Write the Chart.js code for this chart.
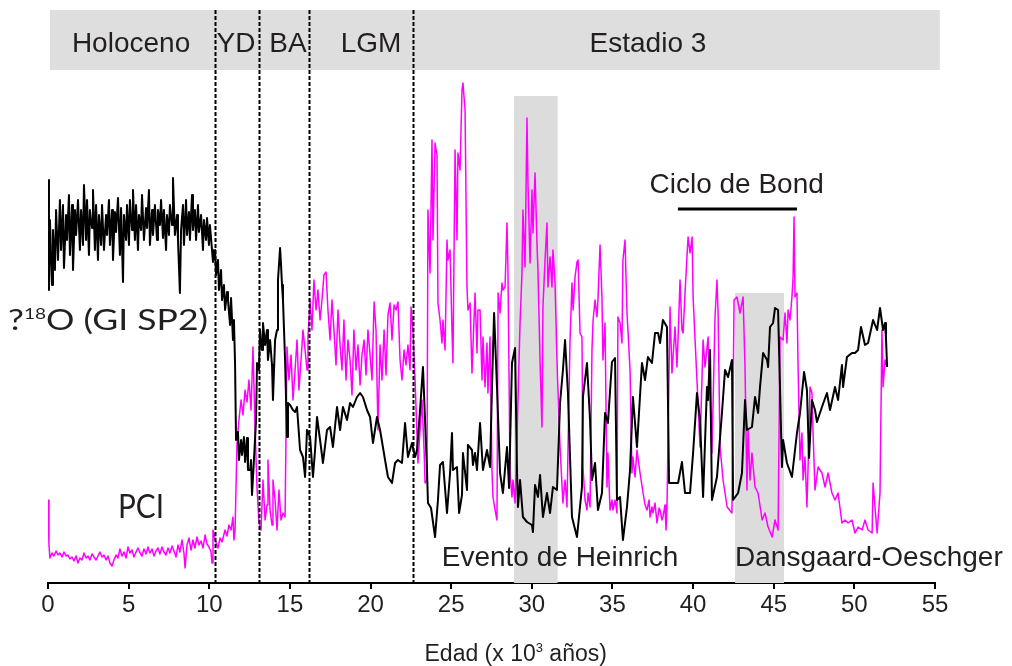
<!DOCTYPE html>
<html>
<head>
<meta charset="utf-8">
<script src="https://cdn.jsdelivr.net/npm/chart.js@4.4.1/dist/chart.umd.min.js"></script>
<style>
  html, body { margin: 0; padding: 0; background: #fff; }
  #chart { display: block; }
</style>
</head>
<body>
<canvas id="chart" width="1012" height="666"></canvas>
<script>
// ages in 10^3 years, values in arbitrary units (no y scale on the figure)
const gispAge = [
  0.00,0.06,0.12,0.25,0.31,0.43,0.50,0.62,0.74,0.81,
  0.93,0.99,1.12,1.18,1.30,1.36,1.49,1.55,1.67,1.74,
  1.86,1.98,2.05,2.17,2.23,2.36,2.42,2.54,2.60,2.73,
  2.79,2.91,2.98,3.10,3.16,3.29,3.35,3.47,3.60,3.66,
  3.78,3.84,3.97,4.03,4.15,4.22,4.34,4.46,4.53,4.65,
  4.71,4.84,4.90,5.02,5.08,5.21,5.27,5.39,5.46,5.58,
  5.64,5.77,5.83,5.95,6.08,6.14,6.26,6.32,6.45,6.51,
  6.63,6.76,6.82,6.94,7.01,7.13,7.19,7.32,7.38,7.50,
  7.56,7.69,7.75,7.87,8.00,8.06,8.18,8.25,8.37,8.43,
  8.56,8.62,8.74,8.80,8.93,8.99,9.11,9.18,9.30,9.36,
  9.49,9.61,9.67,9.80,9.86,9.98,10.04,10.17,10.23,
  10.36,10.42,10.54,10.60,10.73,10.79,10.91,10.98,11.10,11.16,
  11.29,11.35,11.47,11.53,11.60,11.66,11.78,11.84,11.97,12.03,
  12.15,12.22,12.34,12.40,12.53,12.59,12.65,12.77,12.90,12.96,
  13.08,13.15,13.27,13.33,13.46,13.58,13.64,13.77,13.89,13.95,
  14.08,14.20,14.26,14.39,14.45,14.51,14.57,14.70,14.82,14.88,
  15.01,15.19,15.32,15.44,15.63,15.81,15.94,16.06,16.25,16.43,
  16.56,16.68,16.87,17.05,17.30,17.49,17.67,17.92,18.11,18.29,
  18.54,18.73,18.91,19.16,19.35,19.53,19.78,19.97,20.15,20.40,
  20.59,20.90,21.08,21.33,21.52,21.70,21.95,22.14,22.32,22.57,
  22.76,22.88,23.07,23.25,23.50,23.56,23.75,24.00,24.18,24.31,
  24.49,24.74,24.93,25.05,25.11,25.36,25.49,25.67,25.73,25.98,
  26.04,26.29,26.35,26.48,26.60,26.79,26.97,27.22,27.41,27.53,
  27.66,27.84,28.03,28.21,28.46,28.59,28.77,28.96,29.08,29.14,
  29.27,29.45,29.70,30.01,30.07,30.20,30.38,30.51,30.69,30.94,
  31.13,31.31,31.56,31.75,31.93,32.06,32.24,32.49,32.80,33.11,
  33.17,33.42,33.61,33.73,33.92,34.10,34.35,34.54,34.72,34.97,
  35.16,35.28,35.47,35.65,35.90,36.09,36.27,36.52,36.83,37.02,
  37.20,37.45,37.64,37.83,37.95,38.13,38.38,38.51,38.75,39.07,
  39.31,39.50,39.81,40.00,40.24,40.43,40.62,40.86,40.93,41.05,
  41.17,41.48,41.79,41.98,42.17,42.41,42.48,42.79,43.03,43.22,
  43.34,43.65,43.84,44.03,44.15,44.34,44.59,44.65,44.77,44.96,
  45.08,45.27,45.51,45.58,45.82,46.13,46.44,46.63,46.88,47.06,
  47.19,47.37,47.56,47.68,47.99,48.30,48.49,48.80,48.99,49.23,
  49.30,49.54,49.85,50.04,50.23,50.41,50.66,50.85,51.16,51.41,
  51.59,51.78,51.90,51.96,52.03
];
const gispVal = [
  40.3,29.3,36.3,29.8,35.3,31.3,37.3,32.3,38.3,33.3,
  37.8,31.5,36.8,34.3,38.8,32.8,37.8,31.3,37.3,34.8,
  38.3,33.3,37.3,33.8,39.8,34.3,38.3,32.8,37.3,35.5,
  39.3,33.3,37.8,32.3,36.8,33.8,37.8,33.3,36.8,34.8,
  38.3,33.8,37.3,32.3,37.1,35.1,38.5,32.8,37.5,30.1,
  36.8,34.3,37.8,33.8,38.3,35.3,39.3,34.3,37.8,33.3,
  36.8,35.3,38.8,34.3,37.5,35.5,39.3,33.8,37.3,34.8,
  37.8,34.3,37.3,35.8,38.3,34.5,37.3,33.3,36.8,34.8,
  37.8,35.8,40.5,34.8,36.8,34.3,29.0,35.3,37.8,33.8,
  38.3,34.8,37.1,34.3,38.8,35.3,37.3,34.3,37.8,35.1,
  36.8,33.3,36.3,34.3,36.5,33.8,35.8,33.3,32.1,
  33.3,30.8,32.3,29.3,31.3,28.3,29.8,27.3,29.1,28.3,
  25.8,28.5,24.3,26.3,21.8,14.3,15.1,12.3,14.3,12.8,
  14.6,12.1,14.5,11.3,11.3,12.3,8.8,12.3,16.3,22.0,
  21.3,25.3,23.3,26.0,23.8,25.3,22.3,24.3,21.8,18.3,
  24.3,25.3,30.3,33.5,31.8,29.8,28.3,22.3,14.6,18.0,
  17.8,17.3,17.1,17.6,13.3,12.6,10.6,15.3,14.6,10.6,
  13.3,16.6,14.3,12.0,15.3,15.6,13.6,17.6,15.3,17.6,
  16.3,18.0,17.6,18.6,19.0,18.6,17.3,16.6,14.0,16.6,
  15.3,12.3,10.6,10.0,12.0,12.3,12.0,16.0,12.6,14.0,
  12.6,13.3,17.3,21.6,11.3,8.0,7.5,4.6,8.3,11.8,
  12.1,7.0,11.0,15.0,11.3,11.6,7.0,8.8,13.0,9.3,
  13.8,13.3,11.8,13.0,11.3,16.0,11.3,13.3,11.6,19.6,
  27.0,19.6,11.0,9.0,13.6,9.5,22.0,23.5,11.3,7.6,
  10.3,6.6,6.1,5.8,5.1,9.8,8.6,10.8,6.6,9.0,
  7.0,9.6,9.3,18.0,21.3,24.3,19.0,6.6,4.6,9.6,
  18.6,22.0,16.3,10.3,12.0,7.3,9.0,17.0,16.0,22.1,
  22.5,8.3,8.6,4.3,7.6,11.3,18.6,13.6,22.0,20.3,
  22.6,22.0,25.0,25.0,24.0,26.3,25.6,10.0,10.0,10.0,
  12.1,9.0,9.0,13.0,19.0,16.3,8.6,19.6,18.3,23.3,
  8.3,10.6,17.0,21.3,20.6,22.3,8.3,9.0,11.0,18.3,
  15.3,15.6,18.6,17.0,19.6,23.0,22.3,21.6,25.6,26.0,
  27.5,27.3,11.6,14.3,12.0,10.6,15.0,17.0,21.1,19.3,
  12.5,18.3,17.3,16.1,17.6,19.0,17.3,19.6,18.3,21.8,
  19.6,22.6,23.0,23.0,23.3,25.6,23.8,24.0,26.3,25.3,
  27.5,25.3,26.0,24.5,21.6
];

const pciAge = [
  0.00,0.06,0.12,0.25,0.37,0.50,0.62,0.74,0.87,0.99,
  1.12,1.24,1.36,1.49,1.61,1.74,1.86,1.98,2.11,2.23,
  2.36,2.48,2.60,2.73,2.85,2.98,3.10,3.22,3.35,3.47,
  3.60,3.72,3.84,3.97,4.09,4.22,4.34,4.46,4.59,4.71,
  4.84,4.96,5.08,5.21,5.33,5.46,5.58,5.71,5.83,5.95,
  6.08,6.20,6.32,6.45,6.57,6.70,6.82,6.94,7.07,7.19,
  7.32,7.44,7.56,7.69,7.81,7.94,8.06,8.18,8.31,8.43,
  8.50,8.62,8.74,8.87,8.99,9.11,9.24,9.36,9.49,9.61,
  9.74,9.86,9.98,10.11,10.17,10.23,10.36,10.54,10.67,10.79,
  10.98,11.10,11.22,11.35,11.47,11.53,11.60,11.72,11.84,11.97,
  12.09,12.22,12.34,12.46,12.59,12.71,12.84,12.96,13.08,13.21,
  13.33,13.46,13.58,13.64,13.77,13.89,13.95,14.08,14.20,14.32,
  14.45,14.57,14.70,14.82,14.94,15.07,15.19,15.32,15.44,15.56,
  15.69,15.81,15.94,16.06,16.12,16.25,16.37,16.49,16.62,16.74,
  16.87,16.99,17.11,17.24,17.36,17.49,17.61,17.73,17.86,17.98,
  18.11,18.23,18.35,18.48,18.60,18.73,18.85,18.97,19.10,19.22,
  19.35,19.47,19.60,19.72,19.84,19.97,20.09,20.22,20.34,20.46,
  20.59,20.71,20.84,20.96,21.08,21.21,21.33,21.46,21.58,21.70,
  21.83,21.95,22.08,22.20,22.32,22.45,22.51,22.63,22.76,22.94,
  23.07,23.19,23.32,23.38,23.50,23.56,23.69,23.81,23.87,24.00,
  24.12,24.18,24.31,24.43,24.49,24.62,24.74,24.80,24.93,25.05,
  25.11,25.24,25.36,25.42,25.55,25.67,25.73,25.86,25.98,26.04,
  26.17,26.29,26.35,26.48,26.60,26.66,26.79,26.91,26.97,27.10,
  27.22,27.28,27.41,27.53,27.59,27.72,27.84,27.91,28.03,28.15,
  28.21,28.34,28.46,28.52,28.65,28.77,28.83,28.96,29.08,29.27,
  29.39,29.45,29.58,29.70,29.76,29.89,30.01,30.07,30.20,30.32,
  30.38,30.51,30.63,30.69,30.82,30.94,31.00,31.13,31.25,31.31,
  31.44,31.56,31.62,31.75,31.93,32.06,32.18,32.24,32.37,32.49,
  32.56,32.68,32.80,32.87,32.99,33.11,33.17,33.30,33.42,33.49,
  33.61,33.73,33.80,33.92,34.04,34.10,34.23,34.35,34.41,34.54,
  34.66,34.72,34.85,34.97,35.03,35.16,35.28,35.34,35.47,35.59,
  35.65,35.78,35.90,35.97,36.09,36.21,36.27,36.40,36.52,36.71,
  36.90,37.02,37.14,37.27,37.33,37.45,37.51,37.64,37.76,37.89,
  37.95,38.07,38.13,38.26,38.32,38.38,38.57,38.69,38.88,39.00,
  39.07,39.19,39.31,39.38,39.50,39.62,39.69,39.81,39.94,40.00,
  40.24,40.43,40.62,40.74,40.93,41.17,41.36,41.48,41.55,41.67,
  41.86,42.11,42.41,42.54,42.72,42.91,43.10,43.22,43.34,43.41,
  43.53,43.65,43.84,44.03,44.28,44.46,44.65,44.90,45.08,45.27,
  45.39,45.58,45.70,45.82,45.89,46.01,46.13,46.20,46.26,46.32,
  46.44,46.51,46.63,46.75,46.82,46.94,47.06,47.13,47.25,47.37,
  47.44,47.56,47.75,47.99,48.18,48.37,48.61,48.80,48.99,49.23,
  49.42,49.61,49.85,50.04,50.23,50.48,50.66,50.85,51.10,51.16,
  51.41,51.59,51.71,51.78,51.90,52.03
];
const pciVal = [
  8.3,3.8,2.5,3.0,2.7,3.2,2.8,3.0,2.6,3.1,
  2.7,2.8,2.4,2.6,2.2,2.7,2.0,2.5,2.3,3.0,
  2.5,2.7,2.3,2.9,2.6,2.3,2.7,3.1,2.6,2.8,
  2.3,2.7,2.0,1.7,2.3,2.8,2.5,3.4,2.7,3.1,
  2.5,3.6,3.0,3.3,2.6,3.1,3.5,3.0,2.7,3.4,
  2.9,3.6,3.0,3.4,2.7,3.2,3.5,2.9,3.6,3.1,
  2.8,3.5,3.0,3.7,3.2,2.6,3.8,3.1,4.3,3.0,
  1.5,3.8,4.5,3.3,4.3,3.5,4.6,3.8,4.2,3.5,
  4.8,3.9,3.6,3.1,2.0,5.3,4.3,3.5,4.5,4.1,
  5.3,4.7,5.8,5.3,6.6,4.3,5.3,14.0,16.3,18.3,
  16.8,19.3,18.1,20.3,17.3,23.6,15.3,9.6,6.0,5.3,
  10.3,6.3,7.8,12.3,7.3,5.8,10.3,8.3,5.3,9.3,
  6.3,7.0,6.6,23.6,20.3,22.8,18.3,21.3,24.3,19.3,
  22.3,25.3,23.3,21.3,24.6,28.3,25.3,30.3,27.3,29.3,
  26.3,28.3,30.8,31.1,27.3,24.3,28.3,25.3,21.8,27.3,
  23.8,21.3,26.3,20.3,24.3,22.3,18.8,25.3,21.3,23.8,
  19.8,22.8,24.3,20.8,25.3,22.8,20.3,28.1,25.3,15.3,
  23.8,20.3,25.3,20.8,26.8,28.0,24.3,27.8,27.3,28.1,
  22.3,20.3,23.3,21.8,23.8,21.3,27.6,25.3,20.3,12.0,
  15.3,18.3,13.3,10.0,10.3,37.3,31.0,44.3,34.3,44.0,
  42.8,28.0,26.3,24.0,26.3,23.3,34.3,32.3,33.3,25.3,
  22.0,43.3,34.3,43.0,41.3,49.3,50.0,47.3,29.6,27.3,
  28.0,21.0,23.6,29.0,23.0,27.3,27.3,20.3,24.6,19.6,
  24.0,19.0,24.6,11.3,8.6,7.3,6.3,29.0,27.0,30.0,
  29.3,29.6,36.0,31.3,11.0,8.6,10.3,8.0,14.6,26.0,
  31.0,37.3,31.6,46.5,40.0,32.0,39.3,35.0,41.0,34.0,
  31.3,22.3,15.6,27.6,32.3,36.0,29.6,32.6,29.6,33.3,
  30.0,22.3,19.3,13.6,8.0,10.3,7.6,13.0,24.3,30.0,
  27.3,30.6,32.1,32.3,25.0,24.6,11.6,8.3,7.3,9.0,
  7.6,23.3,26.3,28.3,26.6,28.3,33.8,28.6,22.3,26.0,
  9.6,13.0,7.3,8.3,7.3,8.3,7.0,26.6,26.0,24.0,
  32.3,34.3,27.0,25.0,21.3,11.0,12.6,10.6,13.3,11.0,
  9.0,7.8,7.3,8.3,6.6,7.6,7.0,8.0,6.0,7.5,
  7.3,6.3,6.6,7.8,5.3,7.3,27.6,21.0,25.6,21.6,
  24.6,30.3,25.3,25.0,29.0,32.6,34.6,33.0,34.6,28.6,
  20.3,13.6,24.3,21.6,24.6,13.0,26.6,30.3,27.0,13.6,
  10.3,7.6,7.0,28.3,28.6,27.0,28.6,21.6,9.3,15.3,
  10.3,13.0,9.6,9.0,6.3,7.0,5.6,4.6,6.3,5.3,
  24.6,24.3,27.0,24.0,27.3,26.3,28.6,30.6,36.6,28.6,
  29.0,21.6,12.3,15.0,10.3,12.6,7.6,11.6,19.6,19.0,
  15.0,9.3,11.6,11.0,9.6,11.0,9.0,8.3,9.0,6.0,
  6.3,6.0,6.3,5.0,5.6,5.3,6.3,5.3,5.0,10.0,
  5.0,9.0,25.3,19.6,22.3,21.6
];

// period boundaries (dashed lines) and shaded events, in 10^3 years
const boundaries = [10.36, 13.10, 16.21, 22.65];
const periodNames = ['Holoceno', 'YD', 'BA', 'LGM', 'Estadio 3'];
const heinrich = [28.9, 31.6];
const dansgaard = [42.6, 45.64];
const bondCycle = [39.06, 46.44];

const TXT = '#231f20';
const SANS = '"Liberation Sans", Arial, sans-serif';
const HUMAN = 'Lato, "Open Sans", sans-serif';

// draws runs of text (some as superscripts) in a row, optionally squeezed to a width
function drawRuns(ctx, runs, x, y, align, width) {
  let total = 0;
  runs.forEach(r => {
    ctx.font = r.font;
    r.w = ctx.measureText(r.t).width;
    total += r.w;
  });
  const k = width ? width / total : 1;
  let start = x;
  if (align === 'center') start = x - total * k / 2;
  ctx.save();
  ctx.translate(start, y);
  ctx.scale(k, 1);
  ctx.textBaseline = 'alphabetic';
  ctx.textAlign = 'left';
  let cx = 0;
  runs.forEach(r => {
    ctx.font = r.font;
    ctx.fillText(r.t, cx, -(r.rise || 0));
    cx += r.w;
  });
  ctx.restore();
}

const decor = {
  id: 'decor',
  beforeDatasetsDraw(chart) {
    const { ctx, scales: { x, y } } = chart;
    ctx.save();
    ctx.fillStyle = '#dedede';
    // header band
    ctx.fillRect(x.getPixelForValue(0.12), y.getPixelForValue(57.3),
      x.getPixelForValue(55.3) - x.getPixelForValue(0.12),
      y.getPixelForValue(51.3) - y.getPixelForValue(57.3));
    // shaded events
    ctx.fillStyle = '#dcdcdc';
    ctx.fillRect(x.getPixelForValue(heinrich[0]), y.getPixelForValue(48.7),
      x.getPixelForValue(heinrich[1]) - x.getPixelForValue(heinrich[0]),
      y.getPixelForValue(0) - y.getPixelForValue(48.7));
    ctx.fillRect(x.getPixelForValue(dansgaard[0]), y.getPixelForValue(29.0),
      x.getPixelForValue(dansgaard[1]) - x.getPixelForValue(dansgaard[0]),
      y.getPixelForValue(0) - y.getPixelForValue(29.0));
    ctx.restore();
  },
  afterDatasetsDraw(chart) {
    const { ctx, scales: { x, y } } = chart;
    ctx.save();
    // dashed period boundaries
    ctx.strokeStyle = '#000';
    ctx.lineWidth = 2;
    ctx.setLineDash([4, 2]);
    boundaries.forEach(b => {
      const px = Math.round(x.getPixelForValue(b)) + 0.5;
      ctx.beginPath();
      ctx.moveTo(px, y.getPixelForValue(57.3));
      ctx.lineTo(px, y.getPixelForValue(0));
      ctx.stroke();
    });
    ctx.setLineDash([]);
    // bond cycle bar
    ctx.lineWidth = 3;
    ctx.beginPath();
    ctx.moveTo(x.getPixelForValue(bondCycle[0]), y.getPixelForValue(37.4));
    ctx.lineTo(x.getPixelForValue(bondCycle[1]), y.getPixelForValue(37.4));
    ctx.stroke();
    ctx.restore();
  },
  afterDraw(chart) {
    const { ctx, scales: { x, y } } = chart;
    ctx.save();
    ctx.fillStyle = TXT;
    const f28 = '28px ' + SANS;
    const mids = [5.15, 11.66, 14.88, 20.03, 37.2];
    periodNames.forEach((p, i) => {
      drawRuns(ctx, [{ t: p, font: f28 }], x.getPixelForValue(mids[i]), y.getPixelForValue(53.1), 'center');
    });
    drawRuns(ctx, [{ t: 'Ciclo de Bond', font: f28 }], x.getPixelForValue(42.7), y.getPixelForValue(39.0), 'center');
    drawRuns(ctx, [{ t: 'Evento de Heinrich', font: f28 }], x.getPixelForValue(31.75), y.getPixelForValue(1.7), 'center');
    drawRuns(ctx, [{ t: 'Dansgaard-Oeschger', font: f28 }], x.getPixelForValue(50.9), y.getPixelForValue(1.7), 'center');
    // series names
    drawRuns(ctx, [
      { t: '?', font: '28px ' + HUMAN },
      { t: '18', font: '15px ' + HUMAN, rise: 11 },
      { t: 'O (GI SP2)', font: '28px ' + HUMAN }
    ], x.getPixelForValue(-2.48), y.getPixelForValue(25.3), 'left', 200);
    drawRuns(ctx, [{ t: 'PCI', font: '32px ' + HUMAN }], x.getPixelForValue(4.34), y.getPixelForValue(6.5), 'left', 46);
    // axis title
    drawRuns(ctx, [
      { t: 'Edad (x 10', font: '23px ' + SANS },
      { t: '3', font: '13px ' + SANS, rise: 9 },
      { t: ' años)', font: '23px ' + SANS }
    ], x.getPixelForValue(29.0), y.getPixelForValue(-7.8), 'center');
    ctx.restore();
  }
};

const ctx = document.getElementById('chart').getContext('2d');
new Chart(ctx, {
  type: 'line',
  data: {
    datasets: [
      {
        label: 'GISP2',
        data: gispAge.map((a, i) => ({ x: a, y: gispVal[i] })),
        borderColor: '#000',
        borderWidth: 2,
        pointRadius: 0,
        tension: 0,
        borderJoinStyle: 'round'
      },
      {
        label: 'PCI',
        data: pciAge.map((a, i) => ({ x: a, y: pciVal[i] })),
        borderColor: '#ff00ff',
        borderWidth: 1.5,
        pointRadius: 0,
        tension: 0,
        borderJoinStyle: 'round'
      }
    ]
  },
  options: {
    responsive: false,
    devicePixelRatio: 1,
    animation: false,
    layout: { padding: { left: 48, right: 77, top: 3, bottom: 0 } },
    plugins: { legend: { display: false }, tooltip: { enabled: false } },
    scales: {
      x: {
        type: 'linear',
        min: 0,
        max: 55,
        afterFit: (scale) => { scale.height = 83; },
        border: { display: true, color: '#000', width: 2 },
        grid: { display: true, drawOnChartArea: false, drawTicks: true, tickLength: 6, color: '#000', lineWidth: 2 },
        ticks: {
          stepSize: 5,
          autoSkip: false,
          maxRotation: 0,
          padding: 2,
          color: TXT,
          font: { family: SANS, size: 24 }
        }
      },
      y: { display: false, min: 0, max: 58 }
    }
  },
  plugins: [decor]
});
</script>
</body>
</html>
